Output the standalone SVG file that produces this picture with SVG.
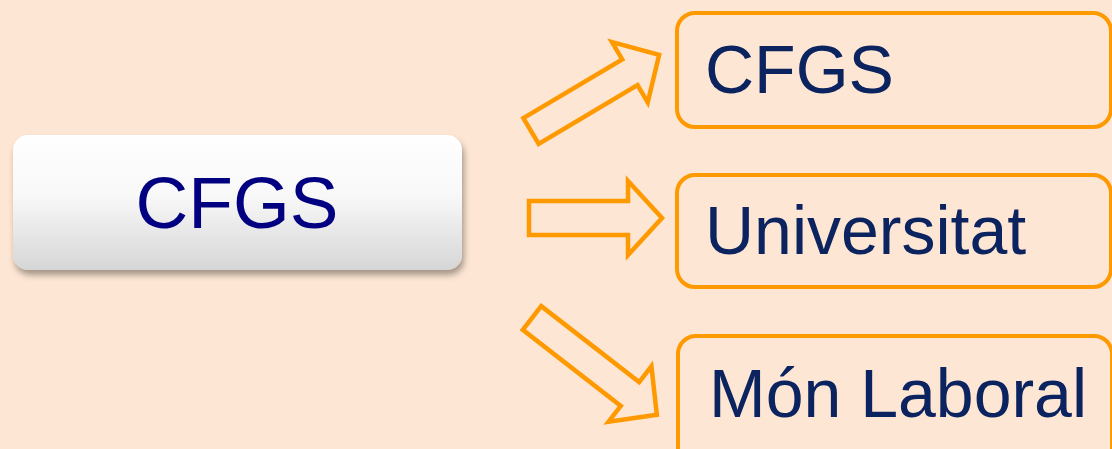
<svg xmlns="http://www.w3.org/2000/svg" width="1112" height="449" viewBox="0 0 1112 449">
  <style>
    .arrow { fill: none; stroke: #FF9900; stroke-width: 4.5; stroke-linejoin: miter; }
    .obox { fill: none; stroke: #FF9900; stroke-width: 4; }
    .otext { font-family: "Liberation Sans", Arial, sans-serif; font-size: 68px; fill: #0B2460; }
    .mtext { font-family: "Liberation Sans", Arial, sans-serif; font-size: 73px; fill: #000080; text-anchor: middle; }
  </style>
  <defs>
    <linearGradient id="btn" x1="0" y1="0" x2="0" y2="1">
      <stop offset="0" stop-color="#ffffff"/>
      <stop offset="0.45" stop-color="#f8f8f8"/>
      <stop offset="1" stop-color="#d6d6d6"/>
    </linearGradient>
    <filter id="sh" x="-10%" y="-20%" width="120%" height="150%">
      <feDropShadow dx="2" dy="5" stdDeviation="3" flood-color="#000000" flood-opacity="0.35"/>
    </filter>
  </defs>
  <rect width="1112" height="449" fill="#FDE6D3"/>

  <g id="node-source">
    <rect x="13" y="135" width="449" height="135" rx="15" fill="url(#btn)" filter="url(#sh)"/>
    <text class="mtext" x="237" y="228">CFGS</text>
  </g>

  <g id="connectors">
    <polygon class="arrow" transform="translate(531,131) rotate(-30.7)" points="0,-15 115,-15 115,-35 149,0 115,35 115,15 0,15"/>
    <polygon class="arrow" transform="translate(529,218)" points="0,-17 99,-17 99,-37 133,0 99,37 99,17 0,17"/>
    <polygon class="arrow" transform="translate(532,318) rotate(37.8)" points="0,-15 124,-15 124,-35 158,0 124,35 124,15 0,15"/>
  </g>

  <g id="node-cfgs">
    <rect class="obox" x="677" y="13" width="434" height="114" rx="18"/>
    <text class="otext" x="705" y="93">CFGS</text>
  </g>
  <g id="node-universitat">
    <rect class="obox" x="677" y="175" width="434" height="112" rx="18"/>
    <text class="otext" x="705" y="254">Universitat</text>
  </g>
  <g id="node-mon-laboral">
    <rect class="obox" x="678" y="336" width="434" height="130" rx="18"/>
    <text class="otext" x="709" y="417">Món Laboral</text>
  </g>
</svg>
